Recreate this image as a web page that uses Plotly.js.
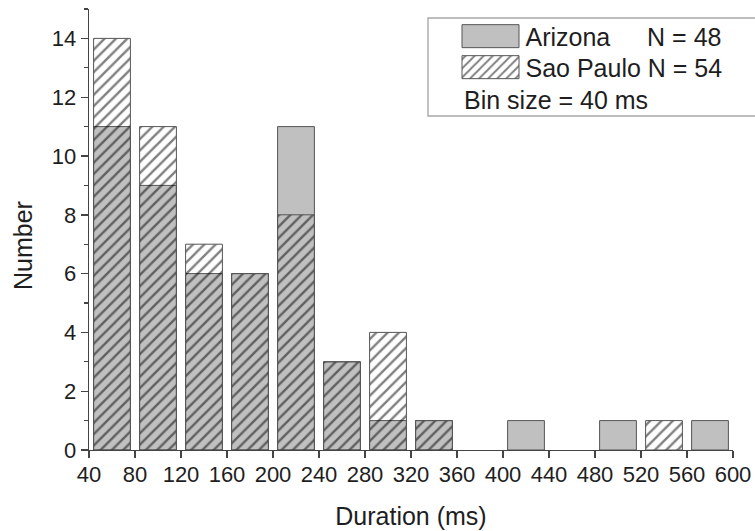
<!DOCTYPE html>
<html>
<head>
<meta charset="utf-8">
<script src="https://cdn.plot.ly/plotly-3.0.1.min.js"></script>
<style>
  html, body { margin: 0; padding: 0; background: #fff; }
  #chart { width: 755px; height: 531px; }
</style>
</head>
<body>
<div id="chart"></div>
<script>
// ---- data ----
var binCenters = [60, 100, 140, 180, 220, 260, 300, 340, 380, 420, 460, 500, 540, 580]; // ms, bin size 40
var arizonaCounts = [11, 9, 6, 6, 11, 3, 1, 1, 0, 1, 0, 1, 0, 1];
var saoPauloCounts = [14, 11, 7, 6, 8, 3, 4, 1, 0, 0, 0, 0, 1, 0];
var xTickVals = [40, 80, 120, 160, 200, 240, 280, 320, 360, 400, 440, 480, 520, 560, 600];
var seriesNames = ['Arizona\u00a0\u00a0\u00a0\u00a0\u00a0\u200aN = 48', 'Sao Paulo N = 54'];
var noteText = 'Bin size = 40 ms';

var FONT = '"Liberation Sans", Arial, "DejaVu Sans", sans-serif';
var TXT = '#1e1e1e';

// empty bins are simply not drawn (no outline along the axis)
function hideEmpty(arr) { return arr.map(function (v) { return v === 0 ? null : v; }); }

var traces = [
  {
    type: 'bar',
    name: seriesNames[0],
    x: binCenters,
    y: hideEmpty(arizonaCounts),
    width: 32,
    marker: { color: '#c0c0c0', line: { color: '#555', width: 1 } },
    hoverinfo: 'x+y'
  },
  {
    type: 'bar',
    name: seriesNames[1],
    x: binCenters,
    y: hideEmpty(saoPauloCounts),
    width: 32,
    marker: {
      color: 'rgba(0,0,0,0)',
      line: { color: '#555', width: 1 },
      pattern: { shape: '/', fgcolor: '#000', bgcolor: 'rgba(0,0,0,0)', size: 8, solidity: 0.3, fillmode: 'overlay' }
    },
    hoverinfo: 'x+y'
  }
];

var layout = {
  width: 755,
  height: 531,
  margin: { l: 89, r: 22, t: 9, b: 81, pad: 0 },
  paper_bgcolor: '#fff',
  plot_bgcolor: '#fff',
  font: { family: FONT, color: TXT, size: 22 },
  barmode: 'overlay',
  showlegend: true,
  legend: {
    x: 0.5691, xanchor: 'left',
    y: 0.99, yanchor: 'top',
    bgcolor: 'rgba(0,0,0,0)',
    borderwidth: 0,
    itemwidth: 60,
    traceorder: 'normal',
    font: { family: FONT, size: 25, color: TXT },
    tracegroupgap: 0
  },
  xaxis: {
    range: [40, 600],
    tickvals: xTickVals,
    ticktext: xTickVals.map(String),
    ticks: 'outside', ticklen: 7, tickwidth: 1.4, tickcolor: '#444',
    ticklabelstandoff: -3,
    showline: true, linecolor: '#444', linewidth: 1.4,
    showgrid: false, zeroline: false,
    tickfont: { family: FONT, size: 22, color: TXT },
    title: { text: 'Duration (ms)', font: { family: FONT, size: 25, color: TXT }, standoff: 21 },
    fixedrange: true
  },
  yaxis: {
    range: [0, 15],
    tick0: 0, dtick: 2,
    ticks: 'outside', ticklen: 7, tickwidth: 1.4, tickcolor: '#444',
    minor: { dtick: 1, tick0: 0, ticks: 'outside', ticklen: 4, tickwidth: 1.2, tickcolor: '#444', showgrid: false },
    showline: true, linecolor: '#444', linewidth: 1.4,
    showgrid: false, zeroline: false,
    tickfont: { family: FONT, size: 22, color: TXT },
    fixedrange: true
  },
  shapes: [
    { type: 'rect', xref: 'paper', yref: 'paper', x0: 0.5264, x1: 1.04, y0: 0.7574, y1: 0.9796,
      line: { color: '#a8a8a8', width: 1.4 }, fillcolor: 'rgba(0,0,0,0)', layer: 'above' }
  ],
  annotations: [
    { text: noteText, xref: 'paper', yref: 'paper', x: 0.5792, y: 0.7937, xanchor: 'left', yanchor: 'middle',
      showarrow: false, font: { family: FONT, size: 25, color: TXT } },
    { text: 'Number', xref: 'paper', yref: 'paper', x: -0.1025, y: 0.4649, xanchor: 'center', yanchor: 'middle',
      textangle: -90, showarrow: false, font: { family: FONT, size: 25, color: TXT } }
  ]
};

Plotly.newPlot('chart', traces, layout, { displayModeBar: false, staticPlot: true }).then(function (gd) {
  // widen the legend swatches to look like the reference's rectangular keys
  gd.querySelectorAll('.legend .legendpoints path').forEach(function (p) {
    p.setAttribute('d', 'M28.5,11.5H-28.5V-11.5H28.5Z');
  });
  // tighten the spacing between the two legend rows (31 px as in the reference)
  var items = gd.querySelectorAll('.legend .traces');
  if (items.length > 1) {
    var m = /translate\(\s*([-\d.]+)[ ,]+([-\d.]+)\s*\)/.exec(items[0].getAttribute('transform') || '');
    if (m) {
      var x0 = parseFloat(m[1]), y0 = parseFloat(m[2]);
      items[1].setAttribute('transform', 'translate(' + x0 + ',' + (y0 + 31) + ')');
    }
  }
});
</script>
</body>
</html>
